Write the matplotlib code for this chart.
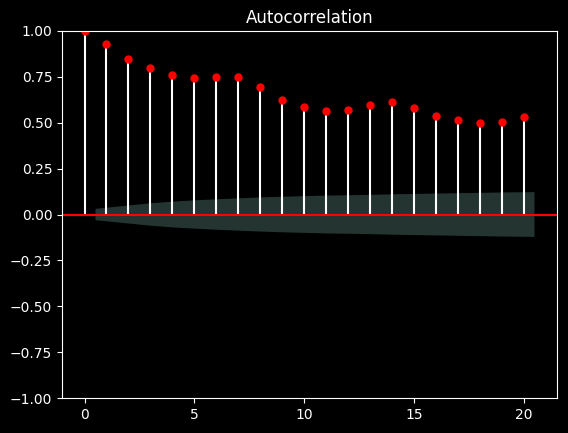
import numpy as np
import matplotlib
matplotlib.use("Agg")
import matplotlib.pyplot as plt

plt.style.use("dark_background")

# lags and autocorrelation values
lags = list(range(21))
acf_values = [1.0, 0.928, 0.846, 0.797, 0.759, 0.742, 0.748, 0.748, 0.693, 0.622,
              0.584, 0.562, 0.568, 0.595, 0.611, 0.579, 0.535, 0.513, 0.497, 0.502,
              0.530]

# half width of the confidence band for lags 1..20
band_half = [0.031, 0.049, 0.061, 0.070, 0.077, 0.083, 0.088, 0.093, 0.097, 0.100,
             0.103, 0.105, 0.107, 0.110, 0.112, 0.114, 0.116, 0.118, 0.120, 0.122]

fig = plt.figure(figsize=(5.68, 4.33), dpi=100)
ax = fig.add_subplot(111)
fig.subplots_adjust(left=62/568, right=557/568, top=1-31/433, bottom=1-398/433)

# stems
ax.vlines(lags, [0], acf_values)
ax.axhline(color="red")
ax.plot(lags, acf_values, marker="o", markersize=5, linestyle="None", color="red")

# confidence band, ends pushed out by half a lag like statsmodels does
band_x = np.array(lags[1:], dtype=float)
band_x[0] -= 0.5
band_x[-1] += 0.5
band = np.array(band_half)
ax.fill_between(band_x, -band, band, alpha=0.25)

ax.set_ylim(-1, 1)
ax.set_title("Autocorrelation")

fig.savefig("out.png", dpi=100)
